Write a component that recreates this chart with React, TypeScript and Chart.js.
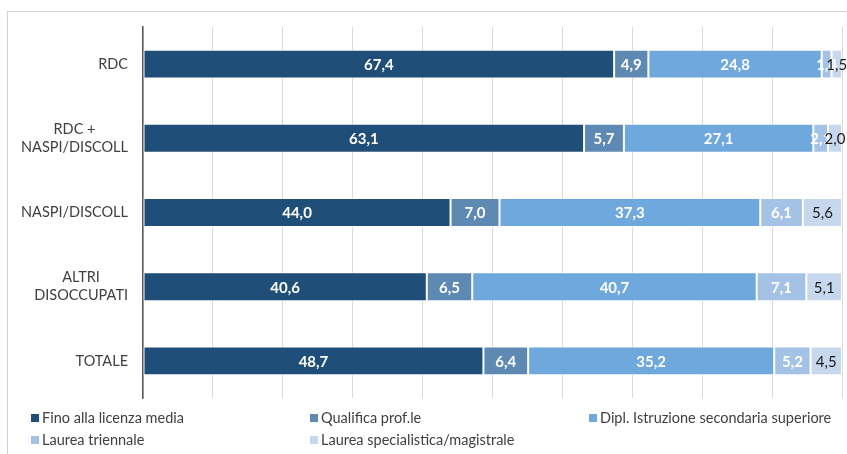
import React, { useEffect, useRef } from "react";
import { Chart, registerables } from "chart.js";

Chart.register(...registerables);

const categories: (string | string[])[] = [
  "RDC",
  ["RDC +", "NASPI/DISCOLL"],
  "NASPI/DISCOLL",
  ["ALTRI", "DISOCCUPATI"],
  "TOTALE",
];

const seriesNames = [
  "Fino alla licenza media",
  "Qualifica prof.le",
  "Dipl. Istruzione secondaria superiore",
  "Laurea triennale",
  "Laurea specialistica/magistrale",
];

const finoLicenzaMedia = [67.4, 63.1, 44.0, 40.6, 48.7];
const qualificaProfle = [4.9, 5.7, 7.0, 6.5, 6.4];
const diplSecondaria = [24.8, 27.1, 37.3, 40.7, 35.2];
const laureaTriennale = [1.4, 2.1, 6.1, 7.1, 5.2];
const laureaSpecialistica = [1.5, 2.0, 5.6, 5.1, 4.5];

const seriesColors = ["#1F4E79", "#5E89B3", "#6FA8DC", "#A4C2E5", "#C7D8EE"];
const labelColors = ["#FFFFFF", "#FFFFFF", "#FFFFFF", "#FFFFFF", "#1A1A1A"];
const labelBold = [true, true, true, true, false];

const FONT = "Lato, 'Liberation Sans', sans-serif";

const fmt = (v: number) => v.toFixed(1).replace(".", ",");

const categoryLabelPlugin = {
  id: "categoryLabels",
  afterDraw(chart: any) {
    const ctx = chart.ctx;
    const yScale = chart.scales.y;
    const rightEdge = chart.chartArea.left - 15;
    ctx.save();
    ctx.font = `14.5px ${FONT}`;
    ctx.fillStyle = "#404040";
    ctx.textAlign = "center";
    ctx.textBaseline = "middle";
    const lineH = 18;
    categories.forEach((lab, i) => {
      const lines = Array.isArray(lab) ? lab : [lab];
      const maxW = Math.max(...lines.map((l) => ctx.measureText(l).width));
      const cx = rightEdge - maxW / 2;
      const cy = yScale.getPixelForValue(i);
      const startY = cy - ((lines.length - 1) * lineH) / 2;
      lines.forEach((l, j) => ctx.fillText(l, cx, startY + j * lineH));
    });
    ctx.restore();
  },
};

const dataLabelPlugin = {
  id: "dataLabels",
  afterDatasetsDraw(chart: any) {
    const ctx = chart.ctx;
    ctx.save();
    ctx.textAlign = "center";
    ctx.textBaseline = "middle";
    chart.data.datasets.forEach((ds: any, di: number) => {
      const meta = chart.getDatasetMeta(di);
      ctx.font = `${labelBold[di] ? "bold " : ""}15px ${FONT}`;
      ctx.fillStyle = labelColors[di];
      meta.data.forEach((el: any, i: number) => {
        const v = ds.data[i];
        const cx = (el.x + el.base) / 2;
        ctx.fillText(fmt(v), cx, el.y + 1);
      });
    });
    ctx.restore();
  },
};

const legendPlugin = {
  id: "customLegend",
  afterDraw(chart: any) {
    const ctx = chart.ctx;
    ctx.save();
    ctx.font = `14.5px ${FONT}`;
    ctx.textBaseline = "middle";
    ctx.textAlign = "left";
    const colStart = 31;
    const colW = 279;
    const rowY = [chart.chartArea.bottom + 20, chart.chartArea.bottom + 42];
    chart.data.datasets.forEach((ds: any, i: number) => {
      const col = i % 3;
      const row = Math.floor(i / 3);
      const x = colStart + col * colW;
      const y = rowY[row];
      ctx.fillStyle = ds.backgroundColor;
      ctx.fillRect(x, y - 4, 8, 8);
      ctx.fillStyle = "#404040";
      ctx.fillText(ds.label, x + 11, y);
    });
    ctx.restore();
  },
};

export default function App() {
  const canvasRef = useRef<HTMLCanvasElement | null>(null);

  useEffect(() => {
    document.body.style.margin = "0";
    const values = [
      finoLicenzaMedia,
      qualificaProfle,
      diplSecondaria,
      laureaTriennale,
      laureaSpecialistica,
    ];
    const chart = new Chart(canvasRef.current as HTMLCanvasElement, {
      type: "bar",
      data: {
        labels: categories as any,
        datasets: seriesNames.map((name, i) => ({
          label: name,
          data: values[i],
          backgroundColor: seriesColors[i],
          borderColor: "rgba(255,255,255,0.7)",
          borderWidth: 1,
          borderSkipped: false,
          barPercentage: 0.39,
          categoryPercentage: 1,
        })),
      },
      options: {
        indexAxis: "y",
        animation: false,
        responsive: true,
        maintainAspectRatio: false,
        layout: { padding: { top: 27, right: 5, bottom: 56, left: 0 } },
        plugins: {
          legend: { display: false },
          tooltip: { enabled: false },
        },
        scales: {
          x: {
            stacked: true,
            min: 0,
            max: 100,
            ticks: { display: false, stepSize: 10 },
            grid: { color: "#D9D9D9", drawTicks: false, lineWidth: 1 },
            border: { display: false },
            afterFit: (s: any) => {
              s.height = 0;
            },
          },
          y: {
            stacked: true,
            ticks: { display: false },
            grid: { display: false, drawTicks: false },
            border: { display: true, color: "#595959", width: 1.5 },
            afterFit: (s: any) => {
              s.width = 143;
            },
          },
        },
      },
      plugins: [dataLabelPlugin, categoryLabelPlugin, legendPlugin],
    });
    return () => chart.destroy();
  }, []);

  return (
    <div style={{ position: "relative", width: 847, height: 454, overflow: "hidden", background: "#fff" }}>
      <div
        style={{
          position: "absolute",
          left: 7,
          top: 11,
          width: 900,
          height: 500,
          border: "1px solid #D0D0D0",
          boxSizing: "border-box",
        }}
      />
      <canvas ref={canvasRef} style={{ position: "absolute", left: 0, top: 0 }} />
    </div>
  );
}
